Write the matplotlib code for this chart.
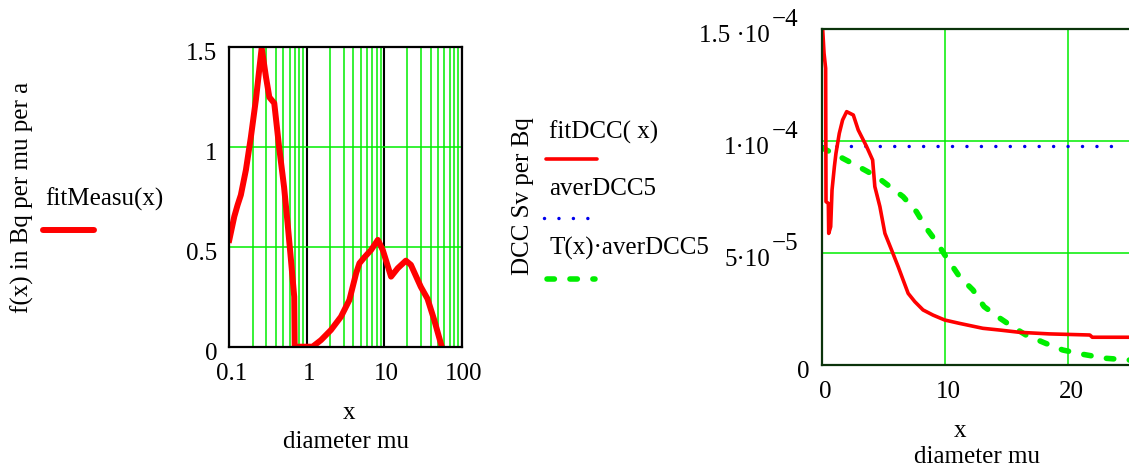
import numpy as np
import matplotlib.pyplot as plt
from matplotlib.lines import Line2D
from matplotlib.ticker import LogLocator

plt.rcParams['font.family'] = ['Liberation Serif', 'DejaVu Serif']

# left panel: fitMeasu(x), log x axis
meas_x = [0.1, 0.116, 0.128, 0.141, 0.164, 0.19, 0.221, 0.262, 0.298, 0.329, 0.381,
          0.44, 0.51, 0.566, 0.626, 0.69, 0.70, 1.19, 1.53, 2.06, 2.77, 3.56, 4.35,
          4.8, 5.57, 6.8, 8.3, 9.6, 12.3, 15.0, 19.1, 22.2, 29.8, 36.4, 44.4, 55.6]
meas_y = [0.535, 0.652, 0.71, 0.76, 0.886, 1.05, 1.24, 1.497, 1.35, 1.25, 1.22,
          1.0, 0.80, 0.62, 0.435, 0.25, 0.0, 0.0, 0.033, 0.084, 0.15, 0.234, 0.368,
          0.418, 0.448, 0.485, 0.535, 0.485, 0.351, 0.393, 0.431, 0.41, 0.30, 0.24, 0.134, 0.0]

# right panel: fitDCC(x), averDCC5, T(x)*averDCC5
dcc_x = [0.0, 0.08, 0.19, 0.32, 0.35, 0.54, 0.57, 0.73, 0.84, 1.03, 1.16, 1.43, 1.70,
         2.03, 2.57, 2.97, 3.65, 4.14, 4.32, 4.73, 5.14, 5.68, 6.22, 6.62, 7.03, 7.57,
         8.24, 9.05, 10.0, 11.2, 13.1, 14.5, 16.1, 18.5, 21.8, 22.0, 26.0]
dcc_y = np.array([1.6, 1.5, 1.393, 1.326, 0.73, 0.722, 0.588, 0.618, 0.782, 0.886, 0.946,
                  1.035, 1.095, 1.132, 1.117, 1.05, 0.976, 0.916, 0.797, 0.708, 0.588,
                  0.514, 0.439, 0.380, 0.320, 0.283, 0.246, 0.223, 0.201, 0.186, 0.164,
                  0.156, 0.146, 0.139, 0.134, 0.124, 0.124]) * 1e-4
aver_x = [0.0, 23.8]
aver_dcc5 = 0.978e-4
t_x = [0.0, 1.22, 3.24, 4.46, 5.54, 6.62, 7.70, 8.51, 9.32, 10.1, 11.2, 12.3, 13.2,
       14.3, 15.3, 16.6, 18.2, 19.6, 21.2, 23.1, 26.0]
t_y = np.array([0.971, 0.938, 0.879, 0.842, 0.797, 0.752, 0.685, 0.611, 0.551, 0.484,
                0.395, 0.335, 0.261, 0.216, 0.179, 0.134, 0.097, 0.067, 0.048, 0.030,
                0.018]) * 1e-4

W, H = 1129, 468
FS = 18
GREEN = '#00ee00'
RED = '#ff0000'
BLUE = '#0000ee'
DARK = '#0b330b'

fig = plt.figure(figsize=(W / 100, H / 100), dpi=100)


def px_axes(l, t, r, b):
    return fig.add_axes([l / W, 1 - b / H, (r - l) / W, (b - t) / H])


def ftext(x, y, s, ha='left', **kw):
    fig.text(x / W, 1 - y / H, s, ha=ha, va='baseline', fontsize=FS, **kw)


def fline(x0, x1, y, **kw):
    fig.add_artist(Line2D([x0 / W, x1 / W], [1 - y / H, 1 - y / H], **kw))


def tlabel(ax, xy, coords, s, dx, dy, ha):
    ax.annotate(s, xy=xy, xycoords=coords, xytext=(dx, dy), textcoords='offset pixels',
                ha=ha, va='baseline', fontsize=FS, annotation_clip=False)


# ---- left plot
axL = px_axes(229.3, 47.3, 461.5, 346.7)
axL.set_xscale('log')
axL.set_xlim(0.1, 100)
axL.set_ylim(0, 1.5)
axL.set_xticks([0.1, 1, 10, 100])
axL.xaxis.set_minor_locator(LogLocator(base=10, subs=np.arange(2, 10)))
axL.set_yticks([0, 0.5, 1, 1.5])
axL.tick_params(which='both', length=0, labelbottom=False, labelleft=False)
axL.grid(which='minor', axis='x', color=GREEN, lw=1.1)
axL.grid(which='major', axis='x', color='black', lw=1.5)
axL.grid(which='major', axis='y', color=GREEN, lw=1.1)
for s in axL.spines.values():
    s.set_color('black')
    s.set_linewidth(1.6)
axL.plot(meas_x, meas_y, color=RED, lw=4.3, solid_joinstyle='round')

for v, s in zip([0, 0.5, 1, 1.5], ['0', '0.5', '1', '1.5']):
    tlabel(axL, (0, v), ('axes fraction', 'data'), s, -12, -13, 'right')
for v, s in zip([0.1, 1, 10, 100], ['0.1', '1', '10', '100']):
    tlabel(axL, (v, 0), ('data', 'axes fraction'), s, 2, -33, 'center')

ftext(349, 419, 'x', ha='center')
ftext(345.7, 448, 'diameter mu', ha='center')
fig.text(22 / W, 1 - 197.5 / H, 'f(x) in Bq per mu per a', rotation=90,
         ha='center', va='center', fontsize=FS)
ftext(45, 206, 'fitMeasu(x)')
fline(43, 94, 230, color=RED, lw=4.3, solid_capstyle='round')

# ---- right plot
axR = px_axes(821.7, 29.3, 821.7 + 26 * 12.3, 365)
axR.set_xlim(0, 26)
axR.set_ylim(0, 1.5e-4)
axR.set_xticks([0, 10, 20])
axR.set_yticks([0, 5e-5, 1e-4, 1.5e-4])
axR.tick_params(which='both', length=0, labelbottom=False, labelleft=False)
axR.grid(color=GREEN, lw=1.1)
for s in axR.spines.values():
    s.set_color(DARK)
    s.set_linewidth(1.6)

dots = dict(color=BLUE, lw=2.5, linestyle=(0, (0.01, 4.15)), dash_capstyle='round')
dashes = dict(color=GREEN, lw=4.0, linestyle=(0, (1.33, 2.8)), dash_capstyle='round')
axR.plot(aver_x, [aver_dcc5] * len(aver_x), **dots)
axR.plot(t_x, t_y, **dashes)
axR.plot(dcc_x, dcc_y, color=RED, lw=2.6, solid_joinstyle='round')

for v, s, e in zip([1.5e-4, 1e-4, 5e-5], ['1.5 \u00b710', '1\u00b710', '5\u00b710'],
                   ['\u22124', '\u22124', '\u22125']):
    tlabel(axR, (0, v), ('axes fraction', 'data'), s, -51.7, -13, 'right')
    tlabel(axR, (0, v), ('axes fraction', 'data'), e, -50, 3, 'left')
tlabel(axR, (0, 0), ('axes fraction', 'data'), '0', -11.7, -13, 'right')
for v in [0, 10, 20]:
    tlabel(axR, (v, 0), ('data', 'axes fraction'), str(v), 4, -33, 'center')

ftext(959.7, 437, 'x', ha='center')
ftext(977.5, 463, 'diameter mu', ha='center')
fig.text(523 / W, 1 - 196.5 / H, 'DCC Sv per Bq', rotation=90,
         ha='center', va='center', fontsize=FS)

ftext(549, 139, 'fitDCC( x)')
fline(545.5, 596.5, 159, color=RED, lw=2.6, solid_capstyle='round')
ftext(549, 195, 'averDCC5')
fline(544, 592, 218, **dots)
ftext(549, 255, 'T(x)\u00b7averDCC5')
fline(547, 595, 279, **dashes)

fig.savefig('out.png', dpi=100)
